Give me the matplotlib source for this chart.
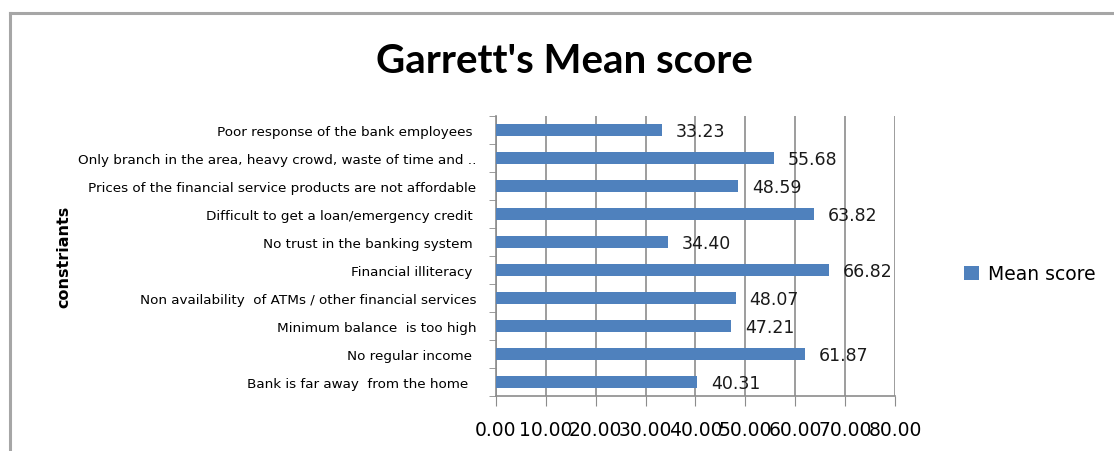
import matplotlib.pyplot as plt
from matplotlib.lines import Line2D
from matplotlib.ticker import FixedLocator

# constraints, bottom to top as drawn
constraints = [
    "Bank is far away  from the home  ",
    "No regular income ",
    "Minimum balance  is too high",
    "Non availability  of ATMs / other financial services",
    "Financial illiteracy ",
    "No trust in the banking system ",
    "Difficult to get a loan/emergency credit ",
    "Prices of the financial service products are not affordable",
    "Only branch in the area, heavy crowd, waste of time and ..",
    "Poor response of the bank employees ",
]
mean_score = [40.31, 61.87, 47.21, 48.07, 66.82, 34.40, 63.82, 48.59, 55.68, 33.23]
x_ticks = [0, 10, 20, 30, 40, 50, 60, 70, 80]

bar_color = "#4F81BD"
grid_color = "#8c8c8c"

fig = plt.figure(figsize=(11.14, 4.52), dpi=100)
ax = fig.add_axes([0.4452, 0.1217, 0.3582, 0.6195])

pos = list(range(len(constraints)))
ax.barh(pos, mean_score, height=0.44, color=bar_color, label="Mean score", zorder=3)

for y, v in zip(pos, mean_score):
    ax.annotate(f"{v:.2f}", (v, y), xytext=(10, -1), textcoords="offset points",
                ha="left", va="center", fontsize=12.5, color="#1a1a1a", zorder=4)

ax.set_xlim(0, 80)
ax.set_ylim(-0.5, len(constraints) - 0.5)
ax.set_xticks(x_ticks)
ax.set_xticklabels([f"{t:.2f}" for t in x_ticks], fontsize=13.5)
ax.set_yticks(pos)
ax.set_yticklabels(constraints, fontsize=9.7)
ax.yaxis.set_minor_locator(FixedLocator([p - 0.5 for p in pos] + [len(pos) - 0.5]))
ax.tick_params(axis="y", which="major", length=0, pad=14)
ax.tick_params(axis="y", which="minor", length=5, direction="out", color=grid_color)
ax.tick_params(axis="x", length=7, direction="out", color=grid_color, pad=10)
ax.grid(axis="x", color=grid_color, linewidth=1.2, zorder=0)

for side in ["top", "right"]:
    ax.spines[side].set_visible(False)
for side in ["left", "bottom"]:
    ax.spines[side].set_color(grid_color)
    ax.spines[side].set_linewidth(1.2)

ax.set_ylabel("constriants", fontsize=11.5, fontweight="bold")
ax.yaxis.set_label_coords(-1.065, 0.5)

fig.suptitle("Garrett's Mean score", x=0.507, y=0.905, fontsize=29,
             fontweight="bold", family="Lato")

ax.legend(loc="center left", bbox_to_anchor=(1.13, 0.436), frameon=False,
          fontsize=13.5, handlelength=0.8, handleheight=0.8, handletextpad=0.5)

# outer chart frame
fig.add_artist(Line2D([0.009, 0.009], [0.0, 0.969], color="#a6a6a6", lw=2.2))
fig.add_artist(Line2D([0.009, 1.0], [0.969, 0.969], color="#a6a6a6", lw=2.2))

fig.savefig("out.png", dpi=100)
